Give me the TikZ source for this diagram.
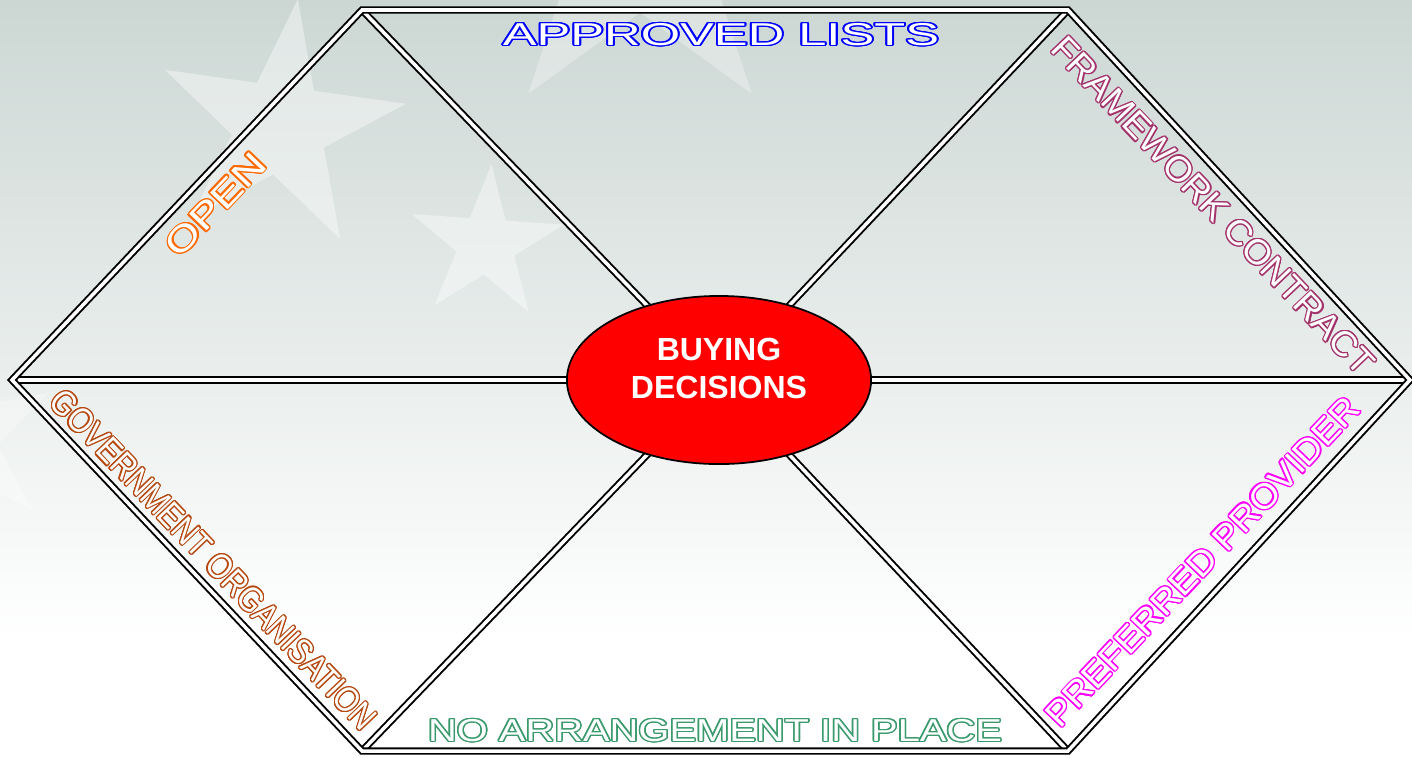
\documentclass[tikz,border=0pt]{standalone}
\usepackage{fontspec}
\setmainfont{Liberation Sans}
\usepackage[copies]{contour}
\contourlength{0.35pt}
\contournumber{16}
\usetikzlibrary{shapes.geometric,positioning}

\definecolor{bgtop}{HTML}{CCD7D4}
\definecolor{lblblue}{HTML}{0000FF}
\definecolor{lblwine}{HTML}{A3336B}
\definecolor{lblpink}{HTML}{FF00FF}
\definecolor{lblgreen}{HTML}{3A9A6C}
\definecolor{lblrust}{HTML}{B5470F}
\definecolor{lblorange}{HTML}{FF6A00}

\newcommand{\hollow}[2]{{\color{white}\contour{#1}{#2}}}

\begin{document}
\begin{tikzpicture}[x=0.01cm, y=-0.01cm,
  dbl/.style={draw=black, line width=0.55pt, double=white, double distance=1pt, line join=miter},
  lbl/.style={inner sep=0pt, font=\fontsize{9}{11}\selectfont, transform shape},
  slant/.style={lbl, font=\fontsize{10}{12}\selectfont},
  flagstar/.style={star, star points=5, star point ratio=2.618, inner sep=0pt, fill=white, opacity=.4}]

\useasboundingbox (0,0) rectangle (1412,757);
\fill[white] (0,0) rectangle (1412,757);
\shade[top color=bgtop, bottom color=white] (0,0) rectangle (1412,640);

\node (s1) [flagstar, minimum size=2.56cm, rotate=-8] at (280,126) {};
\node (s2) [flagstar, minimum size=1.6cm, rotate=-4] at (486,244) {};
\node (s3) [flagstar, minimum size=3.8cm, opacity=.3] at (640,-60) {};
\node (s4) [flagstar, minimum size=2cm, opacity=.3, rotate=10] at (-40,440) {};

\coordinate (V-L) at (12,380);
\coordinate (V-TL) at (362,10);
\coordinate (V-TR) at (1068,10);
\coordinate (V-R) at (1410,380);
\coordinate (V-BR) at (1068,751);
\coordinate (V-BL) at (362,751);
\coordinate (mid) at (719,380);

\draw[dbl] (V-TL) -- (mid) (V-TR) -- (mid) (V-BL) -- (mid) (V-BR) -- (mid);
\draw[dbl] (V-L) -- (V-R);
\draw[dbl] (V-L) -- (V-TL) -- (V-TR) -- (V-R) -- (V-BR) -- (V-BL) -- cycle;

\node (buy) [ellipse, draw=black, line width=0.5pt, fill=red, minimum width=3.04cm, minimum height=1.68cm,
  inner sep=0pt] at (mid) {};
\node (buy-text) [text=white, align=center, font=\bfseries\fontsize{9.1}{10.8}\selectfont]
  at ([yshift=0.12cm]buy.center) {BUYING\\DECISIONS};

\node (t-approved) [lbl, xscale=1.6] at (721,35) {\hollow{lblblue}{APPROVED LISTS}};
\node (t-none) [lbl, xscale=1.26] at (715,731) {\hollow{lblgreen}{NO ARRANGEMENT IN PLACE}};
\node (t-open) [slant, rotate=46.4, xscale=1.29] at (216,205) {\hollow{lblorange}{OPEN}};
\node (t-frame) [slant, rotate=-46.5, xscale=1.03] at (1213,206) {\hollow{lblwine}{FRAMEWORK CONTRACT}};
\node (t-pref) [slant, rotate=46.5, xscale=1.07] at (1203,562) {\hollow{lblpink}{PREFERRED PROVIDER}};
\node (t-gov) [slant, rotate=-46.4, xscale=0.86] at (213,560) {\hollow{lblrust}{GOVERNMENT ORGANISATION}};
\end{tikzpicture}
\end{document}
